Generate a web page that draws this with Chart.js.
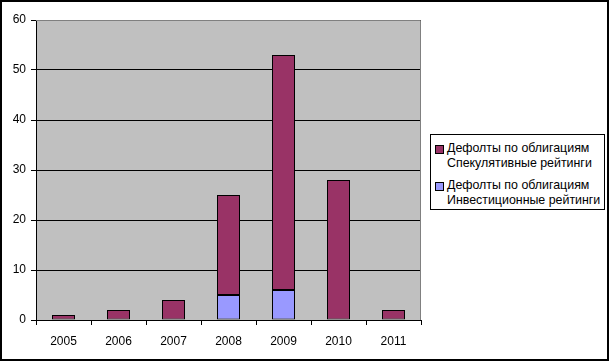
<!DOCTYPE html>
<html>
<head>
<meta charset="utf-8">
<script src="https://cdn.jsdelivr.net/npm/chart.js@4/dist/chart.umd.min.js"></script>
<style>
  html, body { margin: 0; padding: 0; background: #fff; }
  #wrap { position: relative; width: 610px; height: 362px; }
  #legend {
    position: absolute; left: 430px; top: 134px; width: 173px; height: 74px;
    border: 1px solid #000; background: #fff;
    font-family: "Liberation Sans", Arial, sans-serif; font-size: 12.4px; color: #000;
  }
  .item { position: absolute; left: 4px; line-height: 15px; }
  .sw { position: absolute; left: 0; top: 4px; width: 7px; height: 7px; border: 1px solid #000; }
  .txt { margin-left: 12px; white-space: nowrap; }
</style>
</head>
<body>
<div id="wrap">
  <canvas id="chart" width="610" height="362"></canvas>
  <div id="legend"></div>
</div>
<script>
const years = ['2005', '2006', '2007', '2008', '2009', '2010', '2011'];
const investValues = [null, null, null, 5, 6, null, null];
const specValues = [1, 2, 4, 20, 47, 28, 2];
const yTicks = [0, 10, 20, 30, 40, 50, 60];
const labelSpec = ['Дефолты по облигациям', 'Спекулятивные рейтинги'];
const labelInvest = ['Дефолты по облигациям', 'Инвестиционные рейтинги'];

const maroon = '#993366';
const blue = '#9999FF';

// legend (speculative on top, like the original)
const legendEl = document.getElementById('legend');
[[labelSpec, maroon, 6], [labelInvest, blue, 43]].forEach(function(row) {
  const d = document.createElement('div');
  d.className = 'item';
  d.style.top = row[2] + 'px';
  d.innerHTML = '<span class="sw" style="background:' + row[1] + '"></span>' +
    '<div class="txt">' + row[0][0] + '<br>' + row[0][1] + '</div>';
  legendEl.appendChild(d);
});

const frame = {
  id: 'frame',
  beforeDraw: function(chart) {
    const c = chart.ctx, a = chart.chartArea;
    c.save();
    c.fillStyle = '#C0C0C0';
    c.fillRect(a.left, a.top, a.right - a.left, a.bottom - a.top);
    c.restore();
  },
  afterDatasetsDraw: function(chart) {
    const c = chart.ctx, a = chart.chartArea;
    c.save();
    c.strokeStyle = '#808080';
    c.lineWidth = 1;
    c.beginPath();
    c.moveTo(a.left, a.top + 0.5);
    c.lineTo(a.right - 0.5, a.top + 0.5);
    c.lineTo(a.right - 0.5, a.bottom);
    c.stroke();
    c.strokeStyle = '#000';
    c.lineWidth = 2;
    c.strokeRect(1, 1, 607, 359);
    c.restore();
  }
};

new Chart(document.getElementById('chart'), {
  type: 'bar',
  data: {
    labels: years,
    datasets: [
      {
        label: labelInvest.join(' '),
        data: investValues,
        backgroundColor: blue,
        borderColor: '#000',
        borderWidth: 1,
        borderSkipped: false,
        inflateAmount: 0,
        categoryPercentage: 1,
        barPercentage: 23 / 55
      },
      {
        label: labelSpec.join(' '),
        data: specValues,
        backgroundColor: maroon,
        borderColor: '#000',
        borderWidth: 1,
        borderSkipped: false,
        inflateAmount: 0,
        categoryPercentage: 1,
        barPercentage: 23 / 55
      }
    ]
  },
  options: {
    responsive: false,
    animation: false,
    layout: { padding: { left: 0, top: 20, right: 189, bottom: 0 } },
    plugins: { legend: { display: false }, tooltip: { enabled: false } },
    scales: {
      x: {
        stacked: true,
        afterFit: function(s) { s.height = 42; },
        grid: { offset: true, drawOnChartArea: false, color: '#000', tickLength: 5 },
        border: { color: '#000' },
        ticks: {
          color: '#000', padding: 9,
          font: { family: 'Liberation Sans', size: 12 }
        }
      },
      y: {
        stacked: true,
        min: 0,
        max: 60,
        afterFit: function(s) { s.width = 36; },
        afterBuildTicks: function(s) { s.ticks = yTicks.map(function(v) { return { value: v }; }); },
        grid: { color: '#000', tickLength: 5 },
        border: { color: '#000' },
        ticks: {
          color: '#000', padding: 5,
          font: { family: 'Liberation Sans', size: 12 }
        }
      }
    }
  },
  plugins: [frame]
});
</script>
</body>
</html>
